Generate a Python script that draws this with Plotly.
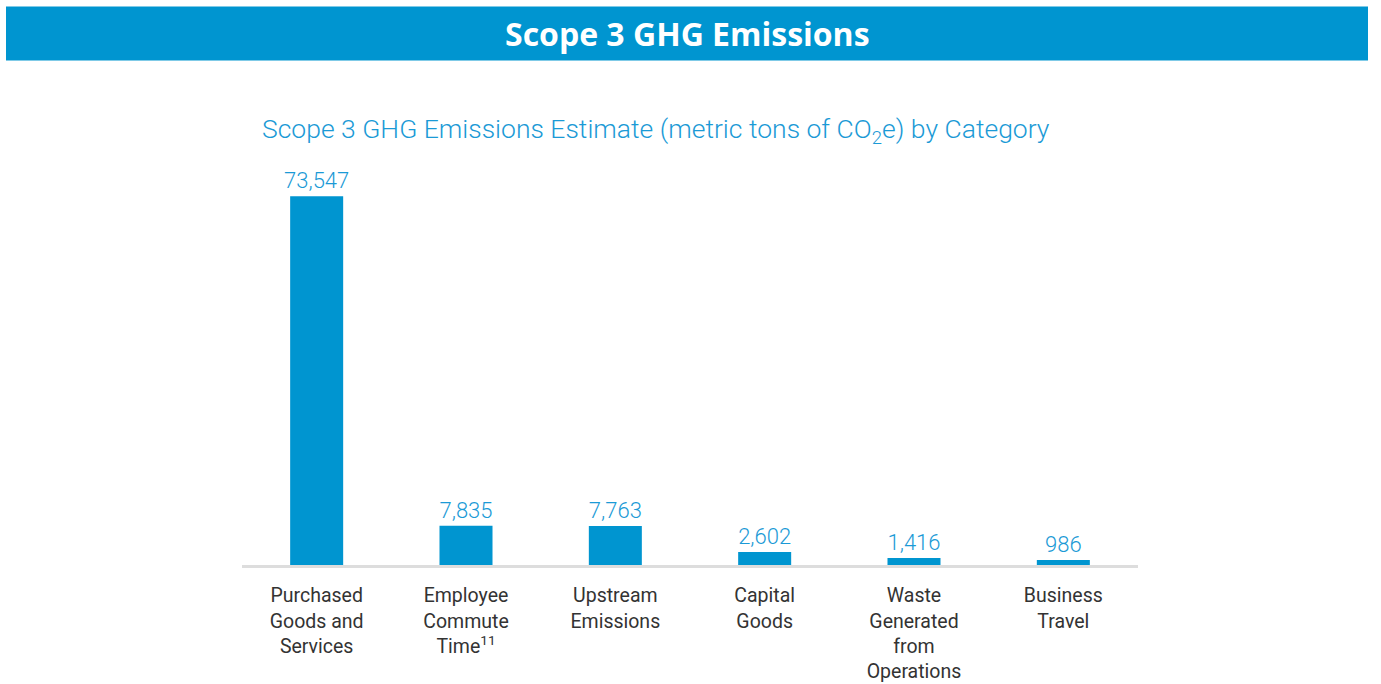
import plotly.graph_objects as go

categories = [
    "Purchased<br>Goods and<br>Services",
    "Employee<br>Commute<br>Time<sup>11</sup>",
    "Upstream<br>Emissions",
    "Capital<br>Goods",
    "Waste<br>Generated<br>from<br>Operations",
    "Business<br>Travel",
]
values = [73547, 7835, 7763, 2602, 1416, 986]
value_labels = [f"{v:,}" for v in values]

W, H = 1381, 684
L, R = 242, 1138
BASE, TOP = 565, 163.6
BLUE = "#0095D0"
TXT_BLUE = "#1b9ad6"

def px_x(px):
    return (px - L) / (R - L)

def px_y(py):
    return (BASE - py) / (BASE - TOP)

fig = go.Figure(
    go.Bar(
        x=categories,
        y=values,
        text=value_labels,
        textposition="outside",
        constraintext="none",
        textfont=dict(color=TXT_BLUE, size=22, family="Roboto", weight=300),
        marker=dict(color=BLUE, line=dict(width=0)),
        cliponaxis=False,
        hoverinfo="skip",
    )
)

fig.update_layout(
    width=W,
    height=H,
    margin=dict(l=L, r=W - R, t=TOP, b=H - BASE, pad=0, autoexpand=False),
    paper_bgcolor="white",
    plot_bgcolor="white",
    bargap=0.645,
    showlegend=False,
    font=dict(family="Roboto", color="#333333", size=20),
    xaxis=dict(
        showline=True,
        linecolor="#dddddd",
        linewidth=3,
        ticks="",
        showgrid=False,
        automargin=False,
        ticklabelstandoff=11,
        tickfont=dict(size=19.5, color="#333333", family="Roboto"),
        fixedrange=True,
    ),
    yaxis=dict(
        range=[0, 80000],
        visible=False,
        showgrid=False,
        zeroline=False,
        automargin=False,
        fixedrange=True,
    ),
    shapes=[
        dict(
            type="rect",
            xref="paper",
            yref="paper",
            x0=px_x(6),
            x1=px_x(1368),
            y0=px_y(60),
            y1=px_y(6),
            fillcolor=BLUE,
            line=dict(width=0),
            layer="below",
        )
    ],
    annotations=[
        dict(
            text="<b>Scope 3 GHG Emissions</b>",
            xref="paper",
            yref="paper",
            x=px_x(687),
            y=px_y(33),
            xanchor="center",
            yanchor="middle",
            showarrow=False,
            font=dict(color="white", size=32, family="Open Sans"),
        ),
        dict(
            text="Scope 3 GHG Emissions Estimate (metric tons of CO<sub>2</sub>e) by Category",
            xref="paper",
            yref="paper",
            x=px_x(260),
            y=px_y(131),
            xanchor="left",
            yanchor="middle",
            showarrow=False,
            font=dict(color=TXT_BLUE, size=26.5, family="Roboto", weight=300),
        ),
    ],
)

fig.write_html(
    "out.html",
    config={"displayModeBar": False, "staticPlot": True},
    post_script="document.body.style.margin='0';document.body.style.overflow='hidden';",
)
